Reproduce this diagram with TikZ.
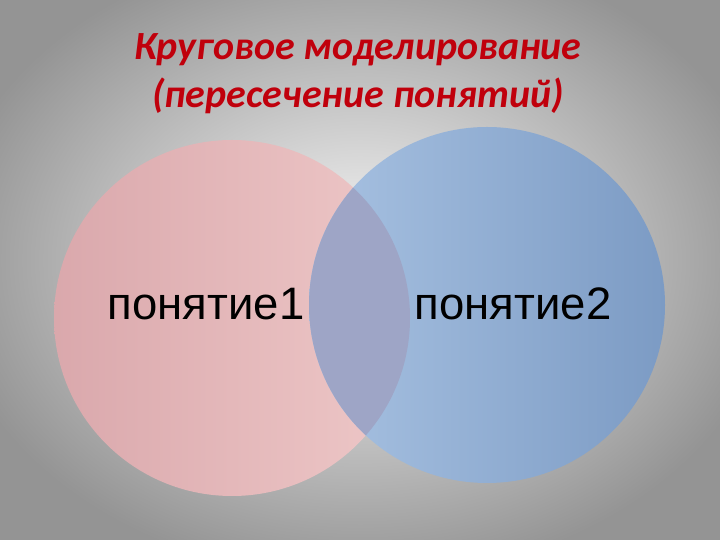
\documentclass[tikz,border=0pt]{standalone}
\usepackage{fontspec}
\setmainfont{Liberation Sans}
\newfontfamily\titlefont{Carlito}
\usepackage{tikz}
\usetikzlibrary{
    calc,
    positioning,
    shapes
}

\begin{document}
\begin{tikzpicture}[
    x=1pt, y=1pt,
    ring/.style={
    	circle,
    	minimum size=356pt,
    	inner sep=0pt
    }, title/.style={
    	font=\titlefont\bfseries\itshape\fontsize{40}{48}\selectfont,
    	text=my-red, anchor=base
    }, label/.style={
    	font=\fontsize{45.5}{50}\selectfont,
    	text=black, anchor=base
    }]
    \definecolor{my-red}{RGB}{192, 0, 12}
    \definecolor{my-grey}{RGB}{148, 148, 148}
    \definecolor{my-white}{RGB}{248, 248, 248}
    \definecolor{pink-light}{RGB}{238, 200, 200}
    \definecolor{pink-dark}{RGB}{218, 168, 172}
    \definecolor{blue-light}{RGB}{168, 194, 226}
    \definecolor{blue-dark}{RGB}{124, 155, 196}
    \definecolor{my-overlap}{RGB}{158, 165, 198}

    %%% background
    \useasboundingbox (0,0) rectangle (720,540);
    \shade[inner color=my-white, outer color=my-grey] (-60,-40) rectangle (780,600);

    %%% title
    \node[title] (title1) at (358,480) {Круговое моделирование};
    \node[title] (title2) at (358,432) {(пересечение понятий)};

    %%% circles
    \node[ring] (set1) at (232,222) {};
    \node[ring] (set2) at (487,235) {};
    \shade[shading angle=60, left color=pink-dark, right color=pink-light]
        (set1.center) circle (178);
    \shade[shading angle=-45, left color=blue-light, right color=blue-dark]
        (set2.center) circle (178);
    \begin{scope}
        \clip (set1.center) circle (178);
        \fill[my-overlap] (set2.center) circle (178);
    \end{scope}

    %%% labels
    \node[label] (name1) at (206,220) {понятие1};
    \node[label] (name2) at (513,220) {понятие2};

\end{tikzpicture}
\end{document}
